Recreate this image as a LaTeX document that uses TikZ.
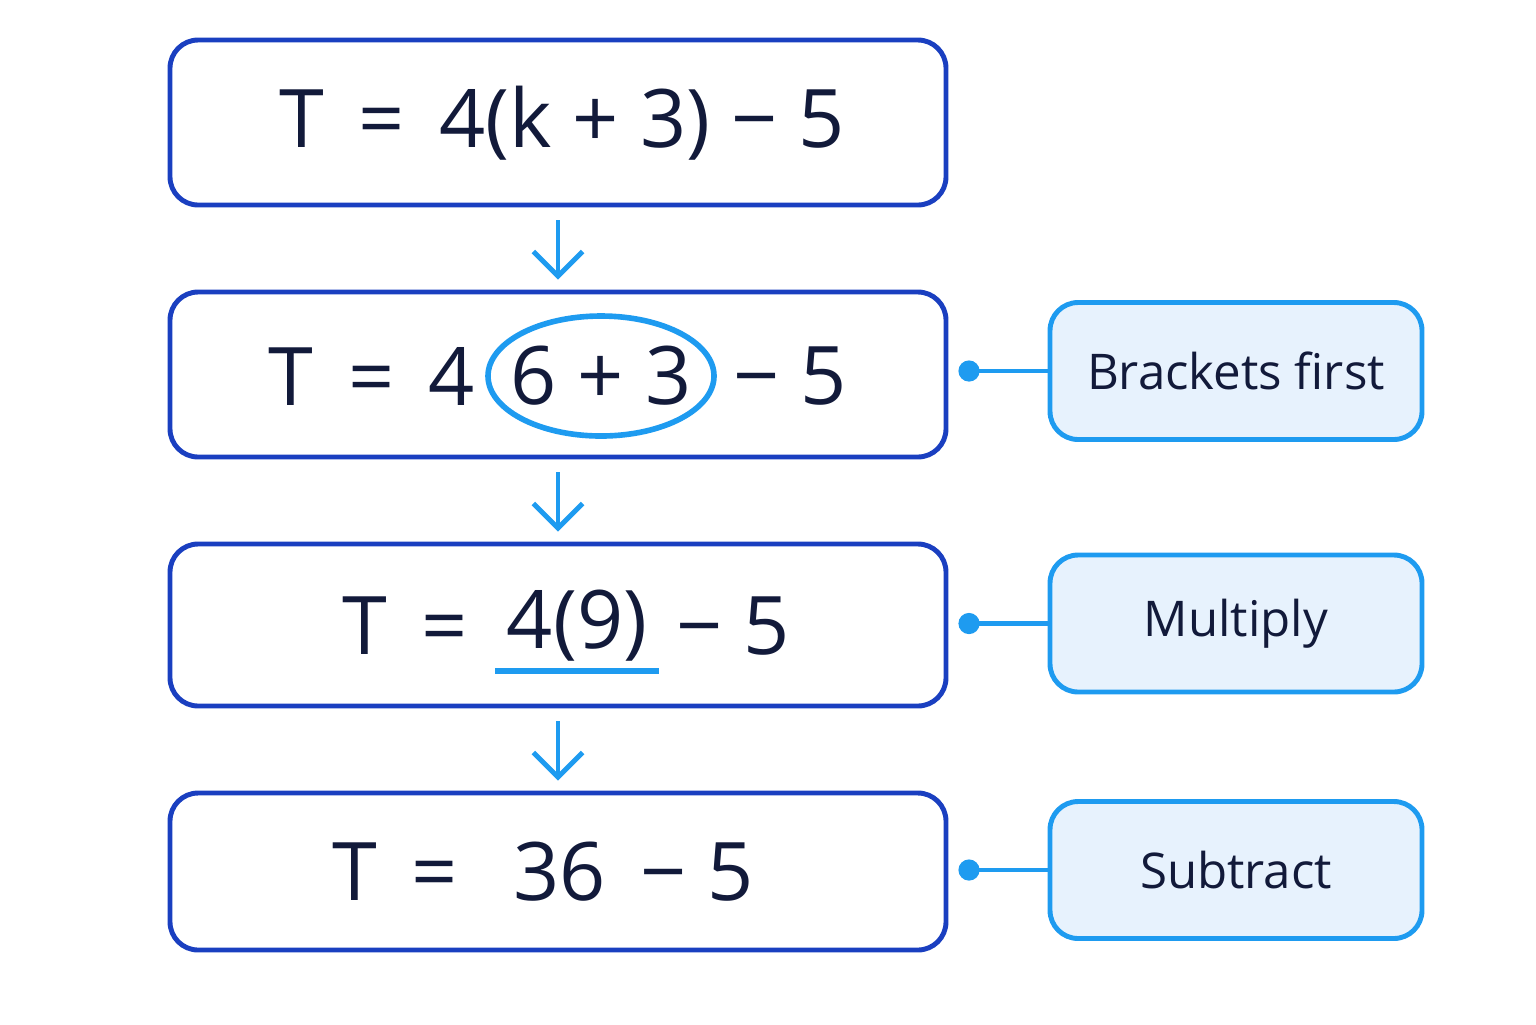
\documentclass[tikz,border=0pt]{standalone}
\usepackage{fontspec}
\setmainfont{Open Sans}
\usetikzlibrary{arrows.meta}
\definecolor{boxblue}{HTML}{1A3FC0}
\definecolor{lightblue}{HTML}{1E9BF0}
\definecolor{notefill}{HTML}{E7F2FD}
\definecolor{ink}{HTML}{121A3A}
\tikzset{
  stage/.style={draw=boxblue, line width=1.4pt, rounded corners=8pt, minimum width=7.76cm, text=ink, font=\fontsize{23}{28}\selectfont},
  eq/.style={text=ink, font=\fontsize{23}{28}\selectfont},
  note/.style={draw=lightblue, fill=notefill, line width=1.4pt, rounded corners=8pt, minimum width=3.72cm, minimum height=1.37cm, text=ink, font=\fontsize{14}{17}\selectfont},
  flow/.style={draw=lightblue, line width=1.4pt, -{Straight Barb[length=7pt,width=14pt]}},
  link/.style={draw=lightblue, line width=1.4pt, {Circle[length=6pt]}-}
}
\begin{document}
\begin{tikzpicture}
\useasboundingbox (0,0) rectangle (15.36,-10.24);
% stages
\node[stage, minimum height=1.65cm] (s1) at (5.58,-1.225) {};
\node[stage, minimum height=1.65cm] (s2) at (5.58,-3.745) {};
\node[stage, minimum height=1.62cm] (s3) at (5.58,-6.25) {};
\node[stage, minimum height=1.57cm] (s4) at (5.58,-8.715) {};
% row texts
\node[eq] (t1) at (5.62,-1.23) {T \,=\, 4(k + 3) − 5};
\node[eq] (t2a) at (3.72,-3.76) {T \,=\, 4};
\node[eq] (t2b) at (6.01,-3.76) {6 + 3};
\node[eq] (t2c) at (7.90,-3.76) {− 5};
\draw[lightblue, line width=1.6pt] (t2b) ellipse (1.13cm and 0.6cm);
\node[eq] (t3a) at (4.05,-6.26) {T \,=};
\node[eq] (t3b) at (5.77,-6.26) {4(9)};
\node[eq] (t3c) at (7.33,-6.26) {− 5};
\draw[lightblue, line width=1.6pt] (4.95,-6.71) -- (6.59,-6.71);
\node[eq] (t4) at (5.43,-8.72) {T \,=\, \ 36 \,− 5};
% arrows
\foreach \a/\b in {s1/s2, s2/s3, s3/s4}
  \draw[flow] ([yshift=-0.13cm]\a.south) -- ([yshift=0.1cm]\b.north);
% notes
\node[note] (n1) at (12.36,-3.71) {Brackets first};
\node[note] (n2) at (12.36,-6.235) {Multiply};
\node[note] (n3) at (12.36,-8.70) {Subtract};
\foreach \s/\n in {s2/n1, s3/n2, s4/n3}
  \draw[link] ([xshift=0.1cm]\s.east |- \n.west) -- (\n.west);
\end{tikzpicture}
\end{document}
